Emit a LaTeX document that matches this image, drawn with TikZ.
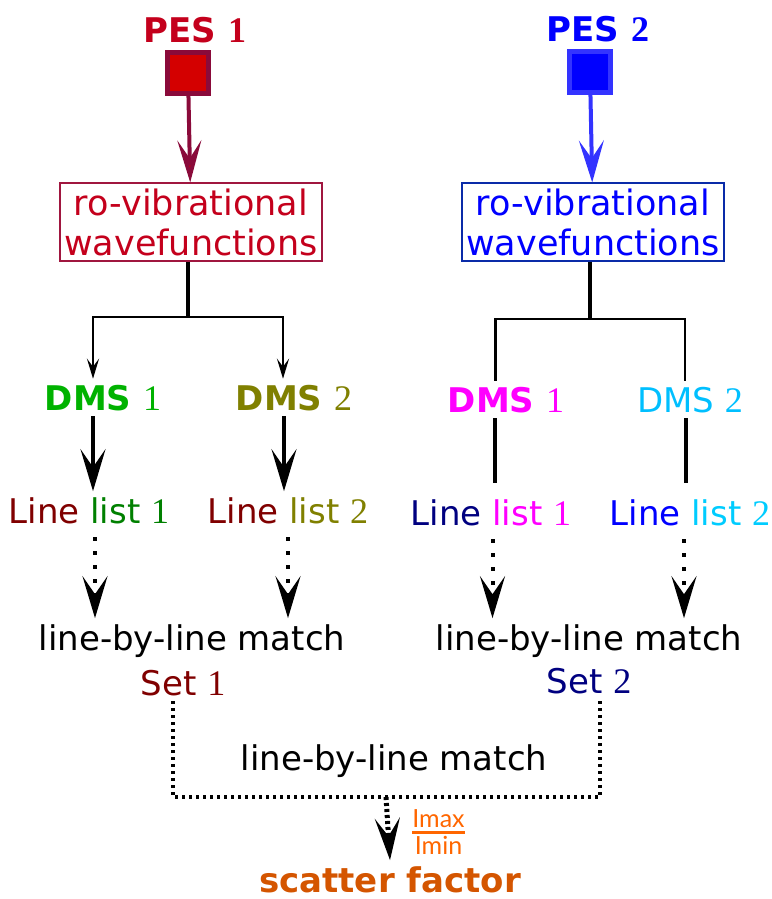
\documentclass[tikz,border=0pt]{standalone}
\usepackage{amsmath}
\usepackage{fontspec}
\setmainfont{DejaVu Sans}
\newfontfamily\numfont{Liberation Serif}
\newfontfamily\fracfont{Lato}
\usepackage{tikz}
\usetikzlibrary{arrows.meta, positioning}
\usepackage{xcolor}
\definecolor{pesred}{HTML}{D40000}
\definecolor{pesdark}{HTML}{8A0A3A}
\definecolor{boxred}{HTML}{A0163F}
\definecolor{wfred}{HTML}{C4001C}
\definecolor{pesblue}{HTML}{0000FF}
\definecolor{pesblue2}{HTML}{3333FF}
\definecolor{boxblue}{HTML}{0A2BA8}
\definecolor{dmsgreen}{HTML}{00B200}
\definecolor{listgreen}{HTML}{008000}
\definecolor{dmsolive}{HTML}{808000}
\definecolor{dmsmagenta}{HTML}{FF00FF}
\definecolor{dmscyan}{HTML}{00BFFF}
\definecolor{listcyan}{HTML}{00CCFF}
\definecolor{linered}{HTML}{800000}
\definecolor{linenavy}{HTML}{000080}
\definecolor{fracorange}{HTML}{FF6600}
\definecolor{sforange}{HTML}{D45500}
\newcommand{\nr}[1]{{\numfont\mdseries\fontsize{18}{20}\selectfont #1}}
\newcommand{\nb}[1]{{\numfont\bfseries\fontsize{18}{20}\selectfont #1}}

\begin{document}
\begin{tikzpicture}[x=0.5pt, y=-0.5pt,
   every node/.style = {inner sep=0pt, outer sep=3pt, font=\fontsize{17}{20}\selectfont},
   lbl/.style = {anchor=base},
   bold/.style = {lbl, font=\fontsize{17}{20}\bfseries},
   sq/.style = {draw, line width=2.5pt, minimum size=20.5pt, outer sep=1.25pt},
   wfbox/.style = {draw, line width=0.6pt, align=center, minimum width=131pt,
      minimum height=39pt, outer sep=0.3pt, font=\fontsize{17.5}{20}\selectfont},
   big/.style = {line width=2pt, -{Stealth[length=21pt, width=12.5pt, inset=9pt]}},
   small/.style = {line width=1.4pt, -{Stealth[length=10pt, width=6pt, inset=4pt]}},
   tree/.style = {line width=1.4pt},
   stem/.style = {line width=1.8pt},
   stick/.style = {line width=2pt},
   dots/.style = {big, dash pattern=on 2pt off 5pt},
   dotline/.style = {line width=1.8pt, dash pattern=on 1.5pt off 2pt}]
   \useasboundingbox (0,0) rectangle (771,899);

   % PES 1 side
   \node[bold, text=wfred] (pes1) at (195,43) {PES \nb{1}};
   \node[sq, fill=pesred, draw=pesdark] (sq1) at (188,73) {};
   \node[wfbox, draw=boxred, text=wfred] (wf1) at (191,222) {ro-vibrational\\wavefunctions};
   \draw[big, pesdark, -{Stealth[length=21pt, width=12pt, inset=9pt, fill=pesred]}] (sq1) -- (wf1);
   \node[bold, text=dmsgreen] (d11) at (103,410) {DMS \nr{1}};
   \node[bold, text=dmsolive] (d12) at (294,410) {DMS \nr{2}};
   \node[lbl] (l11) at (89,523) {\color{linered}Line \color{listgreen}list \nr{1}};
   \node[lbl] (l12) at (288,523) {\color{linered}Line \color{dmsolive}list \nr{2}};
   \node[lbl] (m1) at (192,650) {line-by-line match};
   \node[lbl, text=linered] (s1) at (183,695) {Set \nr{1}};

   % PES 2 side
   \node[bold, text=pesblue] (pes2) at (598,42) {PES \nb{2}};
   \node[sq, fill=pesblue, draw=pesblue2] (sq2) at (590,72) {};
   \node[wfbox, draw=boxblue, text=pesblue] (wf2) at (593,222) {ro-vibrational\\wavefunctions};
   \draw[big, pesblue2] (sq2) -- (wf2);
   \node[bold, text=dmsmagenta] (d21) at (506,412) {DMS \nr{1}};
   \node[lbl, text=dmscyan] (d22) at (690,412) {DMS \nr{2}};
   \node[lbl] (l21) at (491,525) {\color{linenavy}Line \color{dmsmagenta}list \nr{1}};
   \node[lbl] (l22) at (690,525) {\color{pesblue}Line \color{listcyan}list \nr{2}};
   \node[lbl] (m2) at (589,650) {line-by-line match};
   \node[lbl, text=linenavy] (s2) at (589,693) {Set \nr{2}};

   % common part
   \node[lbl] (m3) at (394,770) {line-by-line match};
   \node[bold, text=sforange] (sf) at (390,892) {scatter factor};
   \node[text=fracorange, anchor=west] (frac) at (404,832)
     {$\genfrac{}{}{1.5pt}{}{\mbox{\fracfont\fontsize{12.5}{14}\selectfont Imax}}{\mbox{\fracfont\fontsize{12.5}{14}\selectfont Imin}}$};

   % tree below the wavefunctions
   \coordinate (j1) at (188,317);
   \coordinate (j2) at (590,319);
   \coordinate (jb) at (386,797);
   \draw[stem] (wf1.south -| j1) -- (j1);
   \draw[small] (j1) -| ([xshift=-5pt]d11.north);
   \draw[small] (j1) -| ([xshift=-5.5pt]d12.north);
   \draw[stem] (wf2.south -| j2) -- (j2);
   \draw[tree] (j2) -| ([xshift=-5.25pt]d21.north);
   \draw[tree] (j2) -| ([xshift=-2.5pt]d22.north);

   \foreach \d/\l/\dx in {d11/l11/-5, d12/l12/-5}
     \draw[big] ([xshift=\dx pt]\d.south) -- ([xshift=\dx pt]\d.south |- \l.north);
   \foreach \d/\l/\dx in {d21/l21/-5.75, d22/l22/-2}
     \draw[stick, shorten >=5pt] ([xshift=\dx pt]\d.south) -- ([xshift=\dx pt]\d.south |- \l.north);
   \foreach \l/\m/\dx in {l11/m1/3, l12/m1/0, l21/m2/0.75, l22/m2/-3}
     \draw[dots, shorten <=4pt] ([xshift=\dx pt]\l.south) -- ([xshift=\dx pt]\l.south |- \m.north);

   \draw[dotline] ([xshift=-5pt]s1.south) |- (jb) -| ([xshift=5.5pt]s2.south);
   \draw[dots, line width=2.5pt, dash pattern=on 1.5pt off 1.5pt] (jb) -- (sf.north);
\end{tikzpicture}
\end{document}
